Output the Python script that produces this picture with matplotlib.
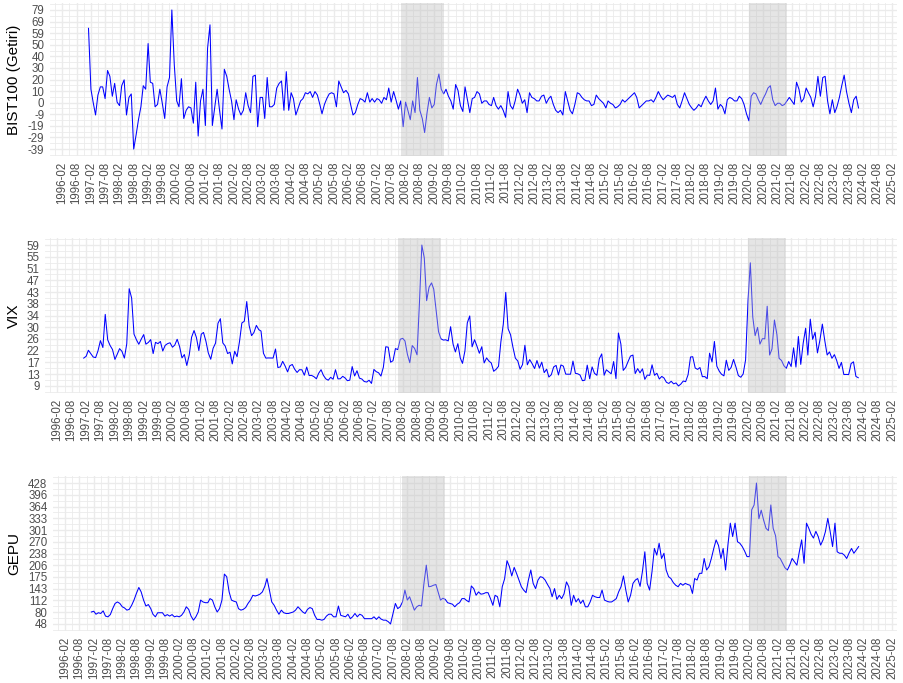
import numpy as np
import pandas as pd
import matplotlib
matplotlib.use("Agg")
import matplotlib.pyplot as plt
import matplotlib.dates as mdates

plt.rcParams['font.family'] = ['Liberation Sans', 'DejaVu Sans']

# ---------------- data (monthly, 1997-01 .. 2023-12) ----------------
start_month = "1997-01-01"
n_months = 324

bist = [
    64, 12, 1, -10, 7, 14, 14, 4, 28, 23, 6, 17,            # 1997
    1, -2, 15, 20, -10, 5, 8, -39.1, -27, -14, -3, 15,      # 1998
    12, 51, 18, 17, -3, -1, 12, 0, -13, 14, 22, 79.7,       # 1999
    33, 2, -3, 21, -13, -6, -3, -4, -17, 18, -28, 2,        # 2000
    12, -19, 47, 67, -19, -3, 12, -6, -22, 29, 23, 12,      # 2001
    2, -14, 3, -5, -10, -6, 9, -2, -8, 23, 24, -20,         # 2002
    5, 5, -13, 22, -3, -3, -1, 13, 17, 19, -6, 27,          # 2003
    -6, 9, 4, -10, -4, 2, 4, 9, 8, 10, 5, 10,               # 2004
    7, -1, -9, -1, 4, 8, 9, 8, -3, 19, 14, 9,               # 2005
    11, 8, -1, -10, -8, -1, 4, 3, 1, 9, 1, 4,               # 2006
    1, 4, 3, 0, 5, 3, 13, 1, 10, 3, -5, 2,                  # 2007
    -20, 1, -6, -14, 2, -8, 22, -6, -13, -25, -8, 5,        # 2008
    -4, -1, 16, 25, 12, 8, 12, 6, 2, -5, 16, 11,            # 2009
    -2, -7, 14, 3, -8, 4, 5, 10, 8, 0, 2, 2,                # 2010
    -1, -2, 5, -2, -5, -2, -6, -12, 10, -2, -5, 2,          # 2011
    12, 7, 0, 3, -8, 9, 5, 4, 2, 2, 6, 7,                   # 2012
    0, 4, 6, -1, -6, -8, -6, -10, 10, 2, -6, -9,            # 2013
    -1, 9, 8, 5, 3, 2, 2, -2, -1, 7, 4, 2,                  # 2014
    0, -4, 2, 0, -1, -4, -3, -1, 3, 1, 3, 5,                # 2015
    7, 9, 5, -4, -2, 0, 2, 2, 3, 1, 5, 10,                  # 2016
    6, 3, 5, 7, 6, 5, 7, -1, -4, 2, 9, 4,                   # 2017
    -1, -4, -6, -4, -1, -3, 2, 6, 2, -1, 2, 13,             # 2018
    -5, -1, -3, -9, 3, 5, 4, 2, 2, 6, 4, -1,                # 2019
    -9, -15, 6, 9, 8, 3, -1, 4, 8, 13, 15, 3,               # 2020
    -2, 0, 0, -2, -1, 2, 5, 2, -1, 18, 12, 1,               # 2021
    4, 13, 9, 5, -3, 6, 23, 6, 22, 23, 2, -9,               # 2022
    3, -8, -3, 5, 15, 24, 10, 0, -8, 3, 6, -4,              # 2023
]

vix = [
    19.47, 20.13, 22.27, 21.04, 19.86, 19.64, 22.06, 25.71, 23.25, 35.09, 26.01, 24.01,
    22.54, 19.00, 20.76, 22.85, 21.89, 19.47, 24.56, 44.28, 40.95, 28.05, 26.01, 24.42,
    26.25, 27.88, 24.45, 25.07, 26.09, 21.09, 25.10, 24.64, 25.41, 22.00, 24.03, 24.64,
    24.95, 23.37, 24.11, 26.20, 23.65, 19.54, 20.74, 16.84, 20.57, 26.94, 29.32, 26.85,
    22.16, 28.04, 28.64, 25.48, 21.33, 19.06, 22.98, 24.84, 31.93, 33.56, 24.90, 23.80,
    21.09, 21.59, 17.40, 21.91, 19.98, 25.40, 32.03, 32.64, 39.69, 31.14, 27.50, 28.62,
    31.17, 29.63, 29.15, 21.21, 19.47, 19.52, 19.49, 19.49, 22.72, 16.10, 16.32, 18.31,
    16.63, 14.55, 16.74, 17.19, 15.50, 14.34, 15.32, 15.29, 13.34, 16.27, 13.24, 13.29,
    12.82, 12.08, 14.02, 15.31, 13.29, 12.04, 11.57, 12.60, 11.92, 15.32, 12.06, 12.07,
    12.95, 12.34, 11.39, 11.59, 16.44, 13.08, 14.95, 12.31, 11.98, 11.10, 10.91, 11.56,
    10.42, 15.42, 14.64, 14.22, 13.05, 16.23, 23.52, 23.38, 18.00, 18.53, 22.87, 22.50,
    26.20, 26.54, 25.61, 20.79, 17.83, 23.95, 22.94, 20.65, 39.39, 59.89, 55.28, 40.00,
    44.84, 46.35, 44.14, 36.50, 28.92, 26.35, 25.92, 26.01, 25.61, 30.69, 24.51, 21.68,
    24.62, 19.50, 17.59, 22.05, 32.07, 34.54, 23.50, 26.05, 23.70, 21.20, 23.54, 17.75,
    19.53, 18.35, 17.74, 14.75, 15.45, 16.52, 25.25, 31.62, 42.96, 29.96, 27.80, 23.40,
    19.44, 18.43, 15.50, 17.15, 24.06, 17.08, 18.93, 17.47, 15.73, 18.60, 15.87, 18.02,
    14.28, 15.51, 12.70, 13.52, 16.30, 16.86, 13.45, 17.01, 16.60, 13.75, 13.70, 13.72,
    18.41, 14.00, 13.88, 13.41, 11.40, 11.57, 16.95, 12.09, 16.31, 14.03, 13.33, 19.20,
    20.97, 13.34, 15.29, 14.55, 13.84, 18.23, 12.12, 28.43, 24.50, 15.07, 16.13, 18.21,
    20.20, 20.55, 13.95, 15.70, 14.19, 15.63, 11.87, 13.42, 13.29, 17.06, 13.33, 14.04,
    11.99, 12.92, 12.37, 10.82, 10.41, 11.18, 10.26, 10.59, 9.51, 10.18, 11.28, 11.04,
    13.54, 19.85, 19.97, 15.93, 15.43, 16.09, 12.83, 12.86, 12.12, 21.23, 18.07, 25.42,
    16.57, 14.78, 13.71, 13.12, 18.71, 15.08, 16.12, 18.98, 16.24, 13.22, 12.62, 13.78,
    18.84, 40.11, 53.54, 34.15, 27.51, 30.43, 24.46, 26.41, 26.37, 38.02, 20.57, 22.75,
    33.09, 27.95, 19.40, 18.61, 16.76, 15.83, 18.24, 16.48, 23.14, 16.26, 27.19, 17.22,
    24.83, 30.15, 20.56, 33.40, 26.19, 28.71, 21.33, 25.87, 31.62, 25.88, 20.58, 21.67,
    19.40, 20.70, 18.70, 15.78, 17.94, 13.59, 13.63, 13.57, 17.52, 18.14, 12.92, 12.45,
]

gepu = [
    81, 83, 75, 79, 77, 84, 70, 68, 74, 90, 104, 108,
    104, 95, 92, 86, 88, 99, 113, 131, 147, 135, 113, 97,
    101, 90, 75, 68, 79, 79, 79, 70, 74, 70, 74, 68,
    70, 68, 72, 81, 95, 88, 70, 59, 68, 81, 113, 108,
    106, 106, 117, 113, 95, 81, 90, 113, 183, 176, 135, 113,
    110, 108, 90, 86, 88, 93, 104, 113, 126, 124, 126, 129,
    135, 150, 171, 140, 108, 99, 86, 75, 86, 79, 77, 77,
    79, 81, 86, 95, 88, 81, 77, 88, 93, 90, 72, 61,
    61, 59, 61, 70, 75, 75, 68, 68, 97, 72, 70, 68,
    75, 63, 68, 77, 68, 75, 72, 63, 63, 63, 63, 68,
    61, 68, 62, 59, 59, 55, 48.8, 77, 104, 90, 95, 108,
    140, 113, 122, 104, 86, 95, 99, 97, 158, 207, 149, 150,
    153, 155, 135, 113, 118, 115, 106, 104, 102, 95, 102, 106,
    117, 117, 112, 108, 151, 144, 126, 135, 129, 130, 133, 133,
    117, 99, 126, 122, 95, 149, 170, 219, 203, 178, 201, 185,
    167, 149, 140, 133, 167, 194, 158, 144, 167, 176, 174, 167,
    155, 144, 122, 144, 115, 126, 117, 130, 162, 149, 99, 126,
    108, 117, 104, 113, 95, 95, 108, 126, 122, 120, 120, 140,
    113, 110, 108, 108, 112, 117, 135, 149, 178, 140, 108, 126,
    158, 167, 171, 150, 190, 243, 158, 140, 190, 252, 234, 266,
    225, 239, 194, 176, 171, 160, 153, 149, 158, 153, 158, 155,
    153, 131, 171, 167, 185, 185, 225, 194, 203, 225, 252, 275,
    260, 225, 252, 194, 261, 320, 284, 320, 270, 266, 257, 245,
    230, 230, 356, 369, 428, 332, 355, 328, 306, 300, 369, 306,
    286, 230, 225, 212, 200, 194, 207, 225, 216, 207, 243, 275,
    212, 320, 307, 290, 280, 298, 284, 261, 275, 297, 333, 298,
    257, 320, 243, 239, 239, 234, 225, 240, 252, 239, 248, 257,
]

bist_labels = ["-39", "-29", "-19", "-9", "0", "10", "20", "30", "40", "50", "59", "69", "79"]
vix_labels = ["9", "13", "17", "22", "26", "30", "34", "38", "43", "47", "51", "55", "59"]
gepu_labels = ["48", "80", "112", "143", "175", "206", "238", "270", "301", "333", "364", "396", "428"]

titles = ["BIST100 (Getiri)", "VIX", "GEPU"]
shade_periods = [("2007-12-01", "2009-06-01"), ("2020-02-01", "2021-06-01")]
tick_start, tick_end = "1996-02-01", "2025-02-01"

# ---------------- figure ----------------
W, H = 904, 683
fig = plt.figure(figsize=(W / 100, H / 100), dpi=100)
fig.patch.set_facecolor("white")

dates = pd.date_range(start_month, periods=n_months, freq="MS")
xd = mdates.date2num(dates)
span = xd[-1] - xd[0]
xlim = (xd[0] - 0.05 * span, xd[-1] + 0.05 * span)

major = pd.date_range(tick_start, tick_end, freq="6MS")
majn = mdates.date2num(major)
step = majn[1] - majn[0]
minn = np.concatenate([[majn[0] - step / 2], (majn[:-1] + majn[1:]) / 2, [majn[-1] + step / 2]])
minn = minn[(minn >= xlim[0]) & (minn <= xlim[1])]

boxes = [(50, 3, 897, 156), (45, 238, 897, 393), (53, 476, 897, 631)]
series = [bist, vix, gepu]
labels_all = [bist_labels, vix_labels, gepu_labels]

for vals, title, labs, (l, t, r, b) in zip(series, titles, labels_all, boxes):
    ax = fig.add_axes([l / W, 1 - b / H, (r - l) / W, (b - t) / H])
    v = np.asarray(vals, dtype=float)
    assert len(v) == n_months, (title, len(v))
    lo, hi = v.min(), v.max()
    yt = np.linspace(lo, hi, 13)
    ylim = (lo - 0.05 * (hi - lo), hi + 0.05 * (hi - lo))
    ax.set_xlim(xlim)
    ax.set_ylim(ylim)
    ys = yt[1] - yt[0]
    ymin = np.concatenate([[yt[0] - ys / 2], (yt[:-1] + yt[1:]) / 2, [yt[-1] + ys / 2]])
    ymin = ymin[(ymin >= ylim[0]) & (ymin <= ylim[1])]
    ax.set_yticks(yt)
    ax.set_yticklabels(labs)
    ax.set_yticks(ymin, minor=True)
    ax.set_xticks(majn)
    ax.set_xticklabels(major.strftime("%Y-%m"), rotation=90)
    ax.set_xticks(minn, minor=True)
    ax.grid(which="major", color="#EBEBEB", lw=1.0)
    ax.grid(which="minor", color="#EBEBEB", lw=0.6)
    ax.set_axisbelow(True)
    for s in ax.spines.values():
        s.set_visible(False)
    ax.tick_params(which="both", length=0, pad=4, labelsize=8.3, labelcolor="#4D4D4D")
    ax.plot(xd, v, color="#0000FF", lw=0.75, zorder=2)
    for a, c in shade_periods:
        ax.axvspan(mdates.date2num(pd.Timestamp(a)), mdates.date2num(pd.Timestamp(c)),
                   color="#BEBEBE", alpha=0.4, lw=0, zorder=3)
    fig.text(14 / W, 1 - (t + b) / 2 / H, title, rotation=90, ha="center", va="center",
             fontsize=11, color="black")

fig.savefig("out.png", dpi=100, facecolor="white")
